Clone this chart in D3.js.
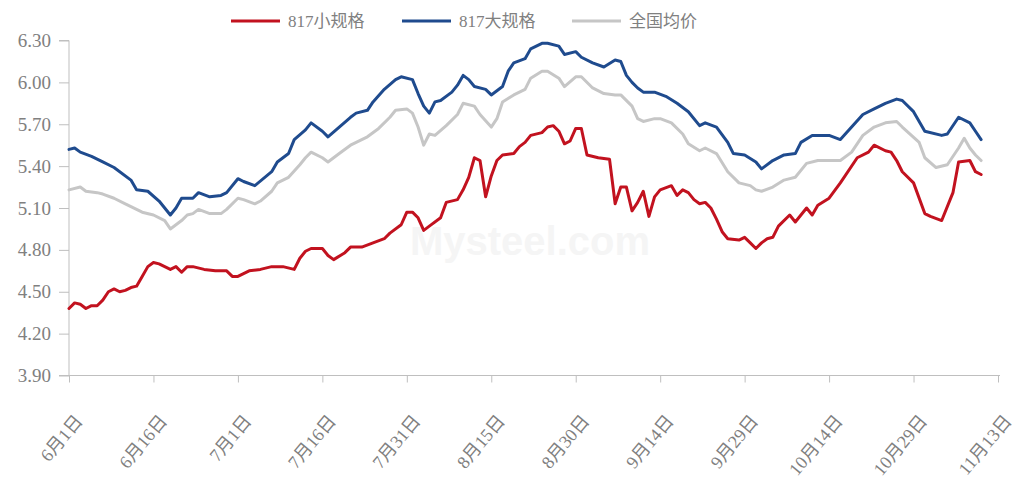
<!DOCTYPE html>
<html>
<head>
<meta charset="utf-8">
<script src="https://cdn.jsdelivr.net/npm/d3@7"></script>
<style>
  html, body { margin: 0; padding: 0; background: #ffffff; }
  svg { display: block; }
</style>
</head>
<body>
<svg id="chart" width="1018" height="489"></svg>
<script>
// ---------- data ----------
const seriesNames = ["817小规格", "817大规格", "全国均价"];

const tickDates = ["06-01","06-16","07-01","07-16","07-31","08-15","08-30","09-14","09-29","10-14","10-29","11-13"];
const tickLabels = ["6月1日","6月16日","7月1日","7月16日","7月31日","8月15日","8月30日","9月14日","9月29日","10月14日","10月29日","11月13日"];
const yTicks = [3.90, 4.20, 4.50, 4.80, 5.10, 5.40, 5.70, 6.00, 6.30];

const smallSpec = [
  ["06-01",4.38],["06-02",4.42],["06-03",4.41],["06-04",4.38],["06-05",4.40],["06-06",4.40],["06-07",4.44],
  ["06-08",4.50],["06-09",4.52],["06-10",4.50],["06-11",4.51],["06-12",4.53],["06-13",4.54],["06-14",4.61],
  ["06-15",4.68],["06-16",4.71],["06-17",4.70],["06-18",4.68],["06-19",4.66],["06-20",4.68],["06-21",4.64],
  ["06-22",4.68],["06-23",4.68],["06-25",4.66],["06-27",4.65],["06-29",4.65],["06-30",4.61],["07-01",4.61],
  ["07-02",4.63],["07-03",4.65],["07-05",4.66],["07-07",4.68],["07-09",4.68],["07-11",4.66],["07-12",4.74],
  ["07-13",4.79],["07-14",4.81],["07-16",4.81],["07-17",4.76],["07-18",4.73],["07-20",4.78],["07-21",4.82],
  ["07-23",4.82],["07-25",4.85],["07-27",4.88],["07-28",4.92],["07-30",4.98],["07-31",5.07],["08-01",5.07],
  ["08-02",5.03],["08-03",4.94],["08-04",4.97],["08-06",5.03],["08-07",5.14],["08-09",5.16],["08-10",5.23],
  ["08-11",5.32],["08-12",5.46],["08-13",5.44],["08-14",5.18],["08-15",5.33],["08-16",5.44],["08-17",5.48],
  ["08-19",5.49],["08-20",5.54],["08-21",5.57],["08-22",5.62],["08-24",5.64],["08-25",5.68],["08-26",5.69],
  ["08-27",5.65],["08-28",5.56],["08-29",5.58],["08-30",5.67],["08-31",5.67],["09-01",5.48],["09-03",5.46],
  ["09-05",5.45],["09-06",5.13],["09-07",5.25],["09-08",5.25],["09-09",5.08],["09-10",5.14],["09-11",5.22],
  ["09-12",5.04],["09-13",5.18],["09-14",5.23],["09-16",5.26],["09-17",5.19],["09-18",5.23],["09-19",5.21],
  ["09-20",5.16],["09-21",5.13],["09-22",5.14],["09-23",5.10],["09-24",5.02],["09-25",4.93],["09-26",4.88],
  ["09-28",4.87],["09-29",4.89],["09-30",4.85],["10-01",4.81],["10-02",4.85],["10-03",4.88],["10-04",4.89],
  ["10-05",4.97],["10-07",5.05],["10-08",5.00],["10-10",5.10],["10-11",5.05],["10-12",5.12],["10-14",5.17],
  ["10-16",5.28],["10-19",5.46],["10-21",5.50],["10-22",5.55],["10-24",5.51],["10-25",5.50],["10-26",5.44],
  ["10-27",5.36],["10-29",5.28],["10-31",5.06],["11-01",5.04],["11-03",5.01],["11-05",5.21],["11-06",5.43],
  ["11-08",5.44],["11-09",5.36],["11-10",5.34]
];

const largeSpec = [
  ["06-01",5.52],["06-02",5.53],["06-03",5.50],["06-05",5.47],["06-07",5.43],["06-09",5.39],["06-12",5.30],
  ["06-13",5.23],["06-15",5.22],["06-17",5.15],["06-19",5.05],["06-20",5.10],["06-21",5.17],["06-23",5.17],
  ["06-24",5.21],["06-26",5.18],["06-28",5.19],["06-29",5.21],["07-01",5.31],["07-02",5.29],["07-04",5.26],
  ["07-07",5.36],["07-08",5.43],["07-10",5.49],["07-11",5.59],["07-13",5.66],["07-14",5.71],["07-16",5.65],
  ["07-17",5.61],["07-19",5.68],["07-21",5.75],["07-22",5.78],["07-24",5.80],["07-25",5.86],["07-27",5.95],
  ["07-29",6.02],["07-30",6.04],["08-01",6.02],["08-02",5.92],["08-03",5.83],["08-04",5.78],["08-05",5.86],
  ["08-06",5.87],["08-08",5.93],["08-09",5.98],["08-10",6.05],["08-11",6.02],["08-12",5.97],["08-14",5.95],
  ["08-15",5.91],["08-17",5.97],["08-18",6.08],["08-19",6.14],["08-21",6.17],["08-22",6.24],["08-24",6.28],
  ["08-25",6.28],["08-27",6.26],["08-28",6.20],["08-30",6.22],["08-31",6.18],["09-02",6.14],["09-04",6.11],
  ["09-06",6.16],["09-07",6.15],["09-08",6.05],["09-09",6.00],["09-10",5.96],["09-11",5.93],["09-13",5.93],
  ["09-15",5.90],["09-17",5.85],["09-19",5.79],["09-21",5.69],["09-22",5.71],["09-24",5.68],["09-26",5.57],
  ["09-27",5.49],["09-29",5.48],["10-01",5.43],["10-02",5.38],["10-04",5.44],["10-06",5.48],["10-08",5.49],
  ["10-09",5.57],["10-11",5.62],["10-14",5.62],["10-16",5.59],["10-18",5.68],["10-20",5.77],["10-22",5.81],
  ["10-24",5.85],["10-26",5.88],["10-27",5.87],["10-29",5.79],["10-31",5.65],["11-03",5.62],["11-04",5.63],
  ["11-06",5.75],["11-08",5.71],["11-09",5.65],["11-10",5.59]
];

const nationalAvg = [
  ["06-01",5.23],["06-03",5.25],["06-04",5.22],["06-06",5.21],["06-07",5.20],["06-09",5.17],["06-11",5.13],
  ["06-13",5.09],["06-14",5.07],["06-16",5.05],["06-18",5.01],["06-19",4.95],["06-21",5.01],["06-22",5.05],
  ["06-23",5.06],["06-24",5.09],["06-26",5.06],["06-28",5.06],["06-29",5.09],["07-01",5.17],["07-02",5.16],
  ["07-04",5.13],["07-05",5.15],["07-07",5.22],["07-08",5.28],["07-10",5.32],["07-12",5.41],["07-13",5.46],
  ["07-14",5.50],["07-16",5.46],["07-17",5.43],["07-19",5.49],["07-21",5.55],["07-22",5.57],["07-24",5.61],
  ["07-26",5.67],["07-28",5.75],["07-29",5.80],["07-31",5.81],["08-01",5.78],["08-02",5.68],["08-03",5.55],
  ["08-04",5.63],["08-05",5.62],["08-07",5.69],["08-09",5.77],["08-10",5.85],["08-12",5.83],["08-13",5.77],
  ["08-15",5.68],["08-16",5.74],["08-17",5.86],["08-19",5.91],["08-21",5.95],["08-22",6.03],["08-24",6.08],
  ["08-25",6.08],["08-27",6.03],["08-28",5.97],["08-30",6.04],["08-31",6.04],["09-02",5.96],["09-04",5.92],
  ["09-06",5.91],["09-07",5.91],["09-09",5.83],["09-10",5.74],["09-11",5.72],["09-13",5.74],["09-14",5.74],
  ["09-16",5.71],["09-18",5.63],["09-19",5.56],["09-21",5.51],["09-22",5.53],["09-24",5.49],["09-26",5.36],
  ["09-28",5.28],["09-30",5.26],["10-01",5.23],["10-02",5.22],["10-04",5.25],["10-06",5.30],["10-08",5.32],
  ["10-10",5.42],["10-12",5.44],["10-14",5.44],["10-16",5.44],["10-18",5.50],["10-20",5.62],["10-22",5.68],
  ["10-24",5.71],["10-26",5.72],["10-27",5.68],["10-30",5.57],["10-31",5.46],["11-02",5.39],["11-04",5.41],
  ["11-06",5.53],["11-07",5.60],["11-08",5.53],["11-09",5.48],["11-10",5.44]
];

const seriesColors = ["#c2121f", "#1f4b8e", "#c6c6c6"];

// ---------- chart ----------
const parse = d3.timeParse("%m-%d");
const svg = d3.select("#chart");
const plotLeft = 69, plotRight = 998, plotTop = 40.5, plotBottom = 375.5;

const x = d3.scaleTime()
  .domain([parse(tickDates[0]), parse(tickDates[tickDates.length - 1])])
  .range([plotLeft, plotRight]);
const y = d3.scaleLinear().domain([3.9, 6.3]).range([plotBottom, plotTop]);

const axisColor = "#bfbfbf";
const textColor = "#808080";
const serif = "'Liberation Serif','Times New Roman','Noto Sans CJK SC',serif";

// watermark
svg.append("text")
  .attr("x", 530).attr("y", 255)
  .attr("text-anchor", "middle")
  .style("font-family", "Arial, 'Liberation Sans', sans-serif")
  .style("font-weight", "bold")
  .style("font-size", "40px")
  .attr("fill", "#f5f5f5")
  .text("Mysteel.com");

// y axis
const yAxis = d3.axisLeft(y).tickValues(yTicks).tickFormat(d3.format(".2f")).tickSize(10).tickPadding(8);
const gy = svg.append("g").attr("transform", `translate(${plotLeft},0)`).call(yAxis);
gy.select(".domain").attr("stroke", axisColor).attr("d", `M-10,${plotTop}H0V${plotBottom}H-10`);
gy.selectAll(".tick line").attr("stroke", axisColor);
gy.selectAll(".tick text").attr("fill", textColor).style("font-family", serif).style("font-size", "19px");

// x axis
const xAxis = d3.axisBottom(x)
  .tickValues(tickDates.map(parse))
  .tickFormat((d, i) => tickLabels[i])
  .tickSize(7).tickPadding(4);
const gx = svg.append("g").attr("transform", `translate(0,${plotBottom})`).call(xAxis);
gx.select(".domain").attr("stroke", axisColor).attr("d", `M${plotLeft},0H${plotRight + 2}`);
gx.selectAll(".tick line").attr("stroke", axisColor);
gx.selectAll(".tick text")
  .attr("fill", textColor)
  .style("font-family", serif)
  .style("font-size", "18px")
  .attr("text-anchor", "end")
  .attr("dy", null)
  .attr("transform", "translate(14,46) rotate(-50)")
  .attr("y", 0).attr("x", 0);

// lines
const allSeries = [smallSpec, largeSpec, nationalAvg];
const line = d3.line().x(d => x(parse(d[0]))).y(d => y(d[1]));
[2, 1, 0].forEach(i => {
  svg.append("path")
    .datum(allSeries[i])
    .attr("fill", "none")
    .attr("stroke", seriesColors[i])
    .attr("stroke-width", 3)
    .attr("stroke-linejoin", "round")
    .attr("stroke-linecap", "round")
    .attr("d", line);
});

// legend
const legendX = [231, 402, 572];
const lg = svg.append("g");
seriesNames.forEach((name, i) => {
  const g = lg.append("g").attr("transform", `translate(${legendX[i]},21)`);
  g.append("line").attr("x1", 0).attr("x2", 49).attr("y1", 0).attr("y2", 0)
    .attr("stroke", seriesColors[i]).attr("stroke-width", 3);
  g.append("text").attr("x", 57).attr("y", 0).attr("dy", "0.35em")
    .attr("fill", textColor)
    .style("font-family", serif)
    .style("font-size", "17px")
    .text(name);
});
</script>
</body>
</html>
